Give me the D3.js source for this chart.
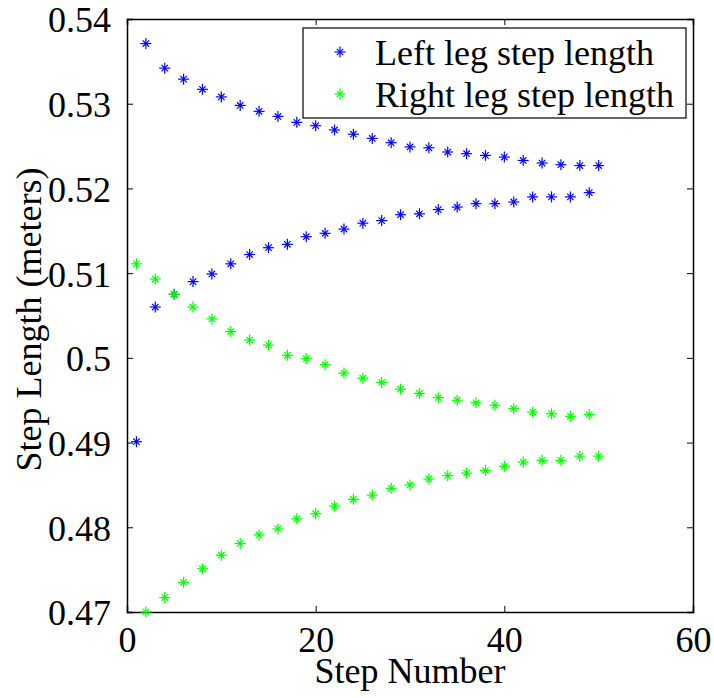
<!DOCTYPE html>
<html>
<head>
<meta charset="utf-8">
<script src="https://cdn.jsdelivr.net/npm/d3@7"></script>
<style>
  body { margin: 0; background: #fff; }
  svg text { font-family: "Liberation Serif", "Times New Roman", serif; fill: #000; }
</style>
</head>
<body>
<svg id="chart" width="714" height="698"></svg>
<script>
const steps = [1, 2, 3, 4, 5, 6, 7, 8, 9, 10, 11, 12, 13, 14, 15, 16, 17, 18, 19, 20,
    21, 22, 23, 24, 25, 26, 27, 28, 29, 30, 31, 32, 33, 34, 35, 36, 37, 38, 39, 40,
    41, 42, 43, 44, 45, 46, 47, 48, 49, 50]

const leftLeg = [0.4901, 0.5371, 0.5060, 0.5342, 0.5075, 0.5329, 0.5090, 0.5317, 0.5099, 0.5308,
    0.5111, 0.5298, 0.5122, 0.5291, 0.5130, 0.5285, 0.5134, 0.5278, 0.5143, 0.5274,
    0.5147, 0.5269, 0.5152, 0.5264, 0.5159, 0.5259, 0.5162, 0.5254, 0.5169, 0.5249,
    0.5170, 0.5248, 0.5175, 0.5243, 0.5178, 0.5241, 0.5182, 0.5239, 0.5182, 0.5237,
    0.5184, 0.5233, 0.5190, 0.5230, 0.5190, 0.5228, 0.5190, 0.5227, 0.5195, 0.5227]

const rightLeg = [0.5111, 0.4700, 0.5093, 0.4717, 0.5075, 0.4735, 0.5060, 0.4751, 0.5046, 0.4767,
    0.5031, 0.4781, 0.5021, 0.4791, 0.5015, 0.4798, 0.5003, 0.4810, 0.4999, 0.4816,
    0.4992, 0.4825, 0.4982, 0.4833, 0.4976, 0.4838, 0.4971, 0.4846, 0.4963, 0.4850,
    0.4958, 0.4857, 0.4953, 0.4861, 0.4950, 0.4864, 0.4947, 0.4867, 0.4944, 0.4872,
    0.4940, 0.4877, 0.4936, 0.4879, 0.4934, 0.4879, 0.4931, 0.4884, 0.4933, 0.4884]

const seriesNames = ["Left leg step length", "Right leg step length"]
const seriesColors = ["#0000ff", "#00ff00"]
const xTicks = [0, 20, 40, 60]
const yTicks = [0.47, 0.48, 0.49, 0.5, 0.51, 0.52, 0.53, 0.54]

const margin = { top: 19, right: 21, bottom: 86, left: 127 }
const w = 714
const h = 698
const width = w - margin.left - margin.right
const height = h - margin.top - margin.bottom
const fontSize = 36

const x = d3.scaleLinear().domain([0, 60]).range([0, width])
const y = d3.scaleLinear().domain([0.47, 0.54]).range([height, 0])

const svg = d3.select("#chart")
const chart = svg.append("g")
    .attr("transform", `translate(${margin.left}, ${margin.top})`)

// asterisk marker, like matlab '*'
function star(g, color) {
    const r = 5.5, d = 3.2
    g.append("line").attr("x1", -r).attr("x2", r).attr("y1", 0).attr("y2", 0)
    g.append("line").attr("x1", 0).attr("x2", 0).attr("y1", -r).attr("y2", r)
    g.append("line").attr("x1", -d).attr("x2", d).attr("y1", -d).attr("y2", d)
    g.append("line").attr("x1", -d).attr("x2", d).attr("y1", d).attr("y2", -d)
    g.selectAll("line").attr("stroke", color).attr("stroke-width", 1.2)
}

// axes: ticks inside on all four sides
const tickLen = 6
const xAxisB = d3.axisBottom(x).tickValues(xTicks).tickSize(-tickLen).tickPadding(14).tickFormat(d3.format("d"))
const xAxisT = d3.axisTop(x).tickValues(xTicks).tickSize(-tickLen).tickFormat("")
const yAxisL = d3.axisLeft(y).tickValues(yTicks).tickSize(-tickLen).tickPadding(16).tickFormat(d => d3.format(".2f")(d).replace(/0$/, ""))
const yAxisR = d3.axisRight(y).tickValues(yTicks).tickSize(-tickLen).tickFormat("")

const gxb = chart.append("g").attr("transform", `translate(0, ${height})`).call(xAxisB)
const gxt = chart.append("g").call(xAxisT)
const gyl = chart.append("g").call(yAxisL)
const gyr = chart.append("g").attr("transform", `translate(${width}, 0)`).call(yAxisR)

for (const g of [gxb, gxt, gyl, gyr]) {
    g.select(".domain").attr("stroke", "#000").attr("stroke-width", 1.5)
    g.selectAll(".tick line").attr("stroke", "#000").attr("stroke-width", 1)
    g.selectAll("text")
        .style("font-family", '"Liberation Serif", serif')
        .style("font-size", fontSize + "px")
        .attr("fill", "#000")
}
gxb.selectAll(".tick text").attr("dy", "0.71em").attr("y", 14)
gyl.selectAll(".tick text").attr("dy", "0.36em")

// points
const allSeries = [leftLeg, rightLeg]
allSeries.forEach((vals, i) => {
    chart.append("g")
        .selectAll("g")
        .data(steps.map((s, k) => ({ step: s, value: vals[k] })))
        .join("g")
        .attr("transform", d => `translate(${x(d.step)}, ${y(d.value)})`)
        .each(function () { star(d3.select(this), seriesColors[i]) })
})

// axis titles
chart.append("text")
    .attr("x", width / 2)
    .attr("y", height + 71)
    .attr("text-anchor", "middle")
    .style("font-size", fontSize + "px")
    .text("Step Number")

chart.append("text")
    .attr("transform", "rotate(-90)")
    .attr("x", -(height / 2) - 4)
    .attr("y", -86)
    .attr("text-anchor", "middle")
    .style("font-size", fontSize + "px")
    .text("Step Length (meters)")

// legend
const legend = svg.append("g").attr("transform", "translate(303, 28)")
legend.append("rect")
    .attr("width", 383)
    .attr("height", 90)
    .attr("fill", "#fff")
    .attr("stroke", "#000")
    .attr("stroke-width", 1.2)
seriesNames.forEach((name, i) => {
    const row = legend.append("g").attr("transform", `translate(0, ${24 + i * 42})`)
    star(row.append("g").attr("transform", "translate(37, 0)"), seriesColors[i])
    row.append("text")
        .attr("x", 72)
        .attr("y", 13)
        .style("font-size", fontSize + "px")
        .text(name)
})
</script>
</body>
</html>
